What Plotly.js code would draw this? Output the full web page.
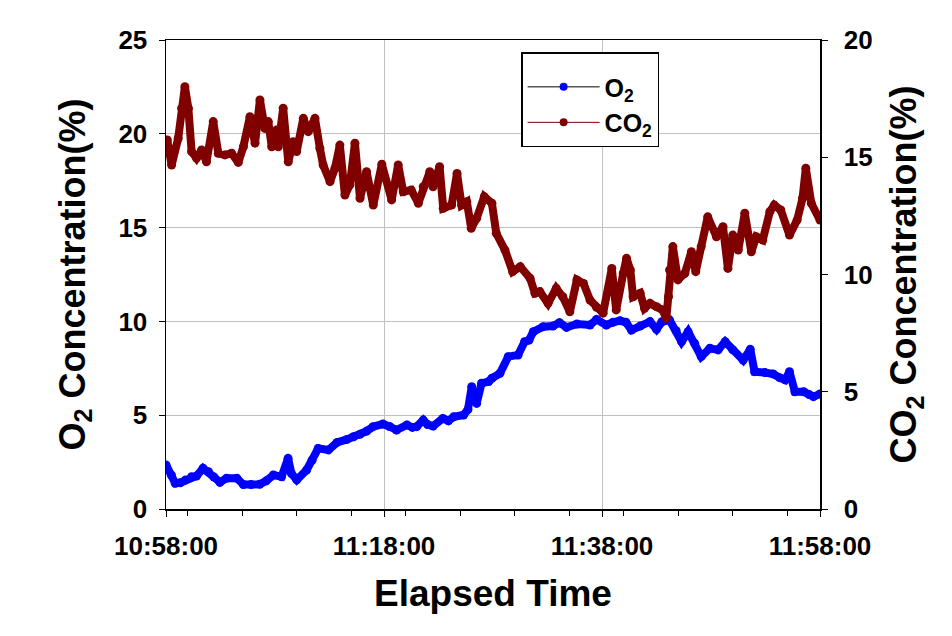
<!DOCTYPE html>
<html>
<head>
<meta charset="utf-8">
<script src="https://cdn.plot.ly/plotly-3.0.1.min.js"></script>
<style>
html,body{margin:0;padding:0;background:#fff;}
#chart{width:952px;height:636px;}
</style>
</head>
<body>
<div id="chart"></div>
<script>
// Minutes elapsed since 10:58:00 and concentrations (%)
var o2Minutes = [0.0,0.5,0.85,1.3,1.8,2.35,2.8,3.4,3.9,4.4,4.95,5.55,6.5,7.1,7.8,8.6,9.2,9.85,10.6,11.2,11.5,12.0,12.9,13.4,13.97,14.9,15.7,16.6,17.2,17.8,18.4,19.0,19.9,20.5,21.15,22.1,22.6,23.0,23.6,24.0,24.5,25.4,25.9,26.4,27.3,27.7,28.05,28.5,28.95,29.6,29.9,30.64,31.4,32.3,32.9,33.3,33.7,34.6,35.5,36.1,36.75,37.7,38.9,39.5,40.4,41.0,41.65,42.2,42.7,43.5,44.4,45.0,45.5,46.2,46.8,47.3,47.9,48.5,49.1,49.9,50.65,51.3,52.0,52.95,53.6,54.0,54.95,55.7,56.3,56.8,57.2,57.7,58.5,59.0,59.4,60.0];
var o2Values = [2.35,1.8,1.37,1.4,1.55,1.72,1.76,2.17,1.99,1.7,1.42,1.64,1.64,1.3,1.3,1.32,1.5,1.81,1.72,2.7,1.9,1.55,2.08,2.6,3.23,3.15,3.55,3.71,3.85,3.98,4.15,4.39,4.53,4.4,4.21,4.48,4.35,4.39,4.74,4.5,4.42,4.83,4.7,4.92,5.01,5.3,6.52,5.63,6.7,6.79,6.97,7.23,8.12,8.21,8.92,9.0,9.45,9.72,9.75,9.93,9.68,9.86,9.81,10.1,9.81,9.95,10.04,9.95,9.54,9.75,9.99,9.58,9.98,10.07,9.5,8.92,9.45,8.83,8.12,8.57,8.48,8.92,8.48,7.94,8.51,7.32,7.27,7.2,7.0,6.88,7.32,6.25,6.25,6.1,5.99,6.13];

var co2Minutes = [0.12,0.52,1.13,1.44,1.74,2.05,2.36,2.81,3.27,3.73,4.34,4.8,5.41,6.03,6.64,7.1,7.71,8.17,8.62,9.08,9.39,9.7,10.15,10.3,10.76,11.22,11.68,11.99,12.6,13.06,13.67,14.13,14.43,15.05,15.5,15.96,16.42,16.88,17.34,17.8,18.41,19.02,19.8,20.7,21.3,21.77,22.5,23.15,23.6,24.2,24.5,25.1,25.44,26.2,26.7,27.13,27.6,28.0,28.5,29.2,29.9,30.3,31.1,31.8,32.5,33.4,33.85,34.3,35.05,35.8,36.4,37.06,37.7,38.3,38.9,39.5,40.1,40.9,41.3,41.95,42.26,42.6,42.86,43.5,43.9,44.4,45.0,45.55,45.9,46.1,46.2,46.5,46.97,47.6,48.2,48.6,49.1,49.7,50.5,51.1,51.55,52.0,52.5,53.1,53.7,54.15,54.76,55.4,55.8,56.4,57.2,57.9,58.4,58.7,59.2,60.0];
var co2Values = [15.74,14.67,15.8,17.09,18.01,17.09,15.24,14.96,15.31,14.81,16.52,15.17,15.1,15.17,14.78,15.45,16.73,15.6,17.44,16.23,16.52,15.45,16.16,15.45,17.09,14.81,15.66,15.24,16.66,16.09,16.66,15.38,14.67,13.96,14.53,15.52,13.39,13.82,15.6,13.25,14.38,12.96,14.7,13.18,14.67,13.53,13.6,13.04,13.74,14.38,13.74,14.6,12.82,12.96,14.31,12.96,13.1,11.97,12.4,13.32,13.04,11.76,11.04,10.12,10.33,9.84,9.2,9.27,8.77,9.41,9.05,8.41,9.77,9.62,8.91,8.6,8.35,10.26,8.49,10.05,10.69,10.19,9.05,9.2,8.56,8.77,8.63,8.49,8.13,9.05,10.19,11.19,9.77,10.05,10.97,10.12,11.19,12.46,11.61,12.04,10.26,11.68,11.04,12.61,10.97,11.61,11.47,12.68,12.96,12.75,11.68,12.32,13.25,14.53,13.04,12.32];

var startTime = '2000-01-01 10:58:00';
var endTime = '2000-01-01 11:58:00';

function toTime(m){
  var base = Date.UTC(2000,0,1,10,58,0);
  var d = new Date(base + Math.round(m*60000));
  function p(n){return (n<10?'0':'')+n;}
  return '2000-01-01 '+p(d.getUTCHours())+':'+p(d.getUTCMinutes())+':'+p(d.getUTCSeconds());
}

var FONT = 'Liberation Sans, Arial, sans-serif';
var BLUE = '#0000FF', RED = '#800000';

var traces = [
  {x: o2Minutes.map(toTime), y: o2Values, type:'scatter', mode:'lines+markers',
   line:{color:BLUE, width:8}, marker:{color:BLUE, size:9}, yaxis:'y', showlegend:false, hoverinfo:'skip'},
  {x: co2Minutes.map(toTime), y: co2Values, type:'scatter', mode:'lines+markers',
   line:{color:RED, width:8}, marker:{color:RED, size:9}, yaxis:'y2', showlegend:false, hoverinfo:'skip'},
  {x:[null], y:[null], type:'scatter', mode:'lines+markers', name:'<b>O<sub>2</sub></b>',
   line:{color:'#000000', width:1}, marker:{color:BLUE, size:8}, legendgroup:'a'},
  {x:[null], y:[null], type:'scatter', mode:'lines+markers', name:'<b>CO<sub>2</sub></b>',
   line:{color:RED, width:1}, marker:{color:RED, size:8}, legendgroup:'b', yaxis:'y2'}
];

var layout = {
  width:952, height:636,
  margin:{l:166, r:132, t:40, b:127},
  paper_bgcolor:'#fff', plot_bgcolor:'#fff',
  font:{family:FONT, color:'#000'},
  xaxis:{
    type:'date', range:[startTime, endTime],
    tick0:startTime, dtick:20*60000, tickformat:'%H:%M:%S',
    showgrid:true, gridcolor:'#c0c0c0', gridwidth:1,
    showline:true, linecolor:'#000', linewidth:1.5, mirror:true,
    ticks:'outside', ticklen:6, tickcolor:'#000',
    minor:{dtick:5*60000, ticks:'outside', ticklen:5, tickcolor:'#000', showgrid:false},
    tickfont:{size:26, family:FONT, weight:'bold'},
    ticklabelstandoff:7,
    title:{text:'<b>Elapsed Time</b>', font:{size:37, family:FONT}, standoff:20},
    zeroline:false
  },
  yaxis:{
    range:[0,25], dtick:5, tick0:0,
    showgrid:true, gridcolor:'#c0c0c0', gridwidth:1,
    showline:true, linecolor:'#000', linewidth:1.5,
    ticks:'outside', ticklen:6, tickcolor:'#000',
    tickfont:{size:26, family:FONT, weight:'bold'},
    ticklabelstandoff:6,
    title:{text:'<b>O<sub>2</sub> Concentration(%)</b>', font:{size:36, family:FONT}, standoff:22},
    zeroline:false
  },
  yaxis2:{
    overlaying:'y', side:'right',
    range:[0,20], dtick:5, tick0:0,
    showgrid:false,
    showline:true, linecolor:'#000', linewidth:1.5,
    ticks:'outside', ticklen:6, tickcolor:'#000',
    tickfont:{size:26, family:FONT, weight:'bold'},
    ticklabelstandoff:11,
    title:{text:'<b>CO<sub>2</sub> Concentration(%)</b>', font:{size:36, family:FONT}, standoff:19},
    zeroline:false
  },
  legend:{
    x:0.543, y:0.974, xanchor:'left', yanchor:'top',
    bgcolor:'#fff', bordercolor:'#000', borderwidth:1.5,
    font:{size:25, family:FONT, color:'#000'},
    title:{text:' ', font:{size:8}},
    itemwidth:72,
    tracegroupgap:9, traceorder:'normal'
  },
  showlegend:true
};

Plotly.newPlot('chart', traces, layout, {staticPlot:true, displayModeBar:false});
</script>
</body>
</html>
